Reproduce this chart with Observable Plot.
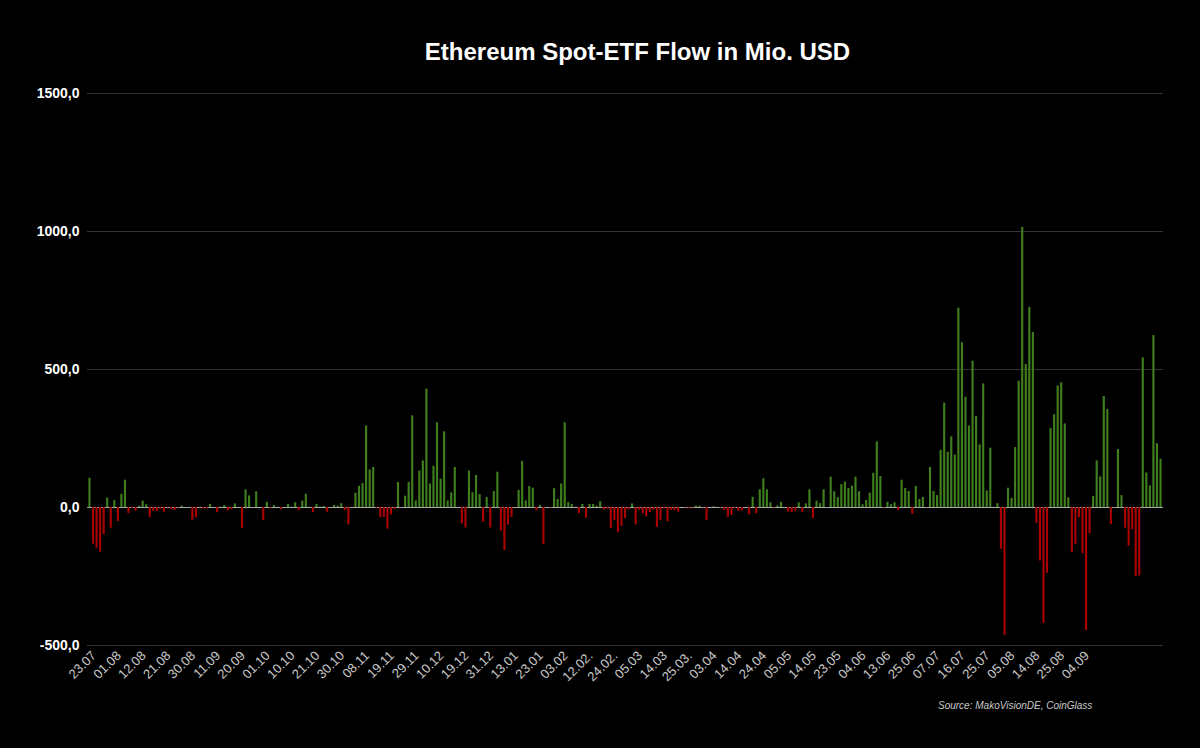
<!DOCTYPE html>
<html>
<head>
<meta charset="utf-8">
<script src="https://cdn.jsdelivr.net/npm/d3@7"></script>
<script src="https://cdn.jsdelivr.net/npm/@observablehq/plot@0.6"></script>
<style>
  html, body { margin: 0; padding: 0; background: #000; }
  body { width: 1200px; height: 748px; overflow: hidden; font-family: "Liberation Sans", Arial, sans-serif; }
  #title { height: 60px; box-sizing: border-box; padding-top: 38px; padding-left: 75px; text-align: center; color: #fff; font-weight: bold; font-size: 24px; line-height: 28px; }
  #source { position: absolute; left: 938px; top: 700px; color: #c8c8c8; font-style: italic; font-size: 10px; line-height: 12px; }
  svg { display: block; }
</style>
</head>
<body>
<div id="title">Ethereum Spot-ETF Flow in Mio. USD</div>
<div id="chart"></div>
<div id="source">Source: MakoVisionDE, CoinGlass</div>
<script>
const dateLabels = ["23.07","01.08","12.08","21.08","30.08","11.09","20.09","01.10","10.10","21.10","30.10","08.11","19.11","29.11","10.12","19.12","31.12","13.01","23.01","03.02","12.02.","24.02.","05.03","14.03","25.03.","03.04","14.04","24.04","05.05","14.05","23.05","04.06","13.06","25.06","07.07","16.07","25.07","05.08","14.08","25.08","04.09"];
const labelEvery = 7;
const yTicks = [-500, 0, 500, 1000, 1500];
const flows = [
  106,-133,-148,-162,-98,34,-75,25,-51,48,
  99,-22,-3,-14,5,23,10,-37,-14,-14,
  -6,-17,-1,-6,-11,-2,5,0,0,-46,
  -37,0,-5,-5,11,0,-19,1,7,-13,
  -8,13,0,-77,64,42,0,57,0,-48,
  19,-3,7,1,-8,0,11,1,17,-11,
  23,48,1,-19,11,2,4,-17,0,8,
  5,14,-11,-63,0,52,77,
  87,295,136,145,-2,-37,-36,-79,-27,-7,
  91,0,41,91,332,24,132,169,429,85,
  149,307,103,274,24,53,145,0,-59,-74,
  132,53,116,47,-53,36,-74,58,128,-86,
  -156,-64,-36,0,62,167,24,76,70,-12,
  8,-134,0,-2,68,29,85,307,18,11,
  1,-22,11,-39,11,11,5,21,-10,-6,
  -76,-47,-91,-69,-40,-9,
  13,-63,-10,-23,-34,-19,-10,
  -72,-46,-5,-52,-11,-11,-17,0,-2,-3,
  -2,5,5,-1,-48,0,3,0,-2,-11,
  -37,-29,-3,-14,-12,0,-27,37,-23,64,
  104,64,17,-2,6,19,0,-17,-19,-14,
  17,-17,13,64,-40,23,14,64,0,110,
  57,36,83,92,69,77,110,57,10,25,
  52,124,238,112,-2,19,10,17,-11,99,
  69,58,-25,76,29,37,-1,145,58,43,
  207,378,200,256,190,722,597,399,295,530,
  330,227,448,60,215,1,14,-151,-463,70,
  33,217,457,1015,518,725,634,-58,-194,-420,
  -238,286,336,440,452,303,35,-163,-134,-37,
  -167,-446,-95,40,169,111,402,355,-62,-1,
  210,43,-75,-140,-80,-250,-248,542,125,78,
  623,231,175
];
const GREEN = "#3f7f1e", RED = "#aa0000";
const table = flows.map((v, i) => ({i, v}));
const tickIdx = dateLabels.map((_, k) => k * labelEvery);

const plot = Plot.plot({
  width: 1200,
  height: 640,
  marginTop: 33,
  marginBottom: 55,
  marginLeft: 87,
  marginRight: 37,
  style: {background: "#000", fontFamily: "'Liberation Sans', Arial, sans-serif"},
  x: {type: "band", domain: d3.range(flows.length), padding: 0.4, round: false, label: null},
  y: {domain: [-500, 1500], label: null},
  marks: [
    Plot.ruleY(yTicks.filter(d => d !== 0), {stroke: "#333", strokeWidth: 1}),
    Plot.ruleY([0], {stroke: "#a8a8a8", strokeWidth: 1}),
    Plot.barY(table, {x: "i", y: "v", fill: d => d.v >= 0 ? GREEN : RED}),
    Plot.axisY({ticks: yTicks, tickSize: 0, tickPadding: 8, label: null, fill: "#fff", fontSize: 14, fontWeight: "bold",
      tickFormat: d => d.toFixed(1).replace(".", ",")}),
    Plot.axisX({ticks: tickIdx, tickSize: 0, tickPadding: 5, tickRotate: -45, dx: 4, dy: 3, label: null, fill: "#c8c8c8", fontSize: 13,
      tickFormat: d => dateLabels[d / labelEvery]})
  ]
});
document.getElementById("chart").appendChild(plot);
</script>
</body>
</html>
